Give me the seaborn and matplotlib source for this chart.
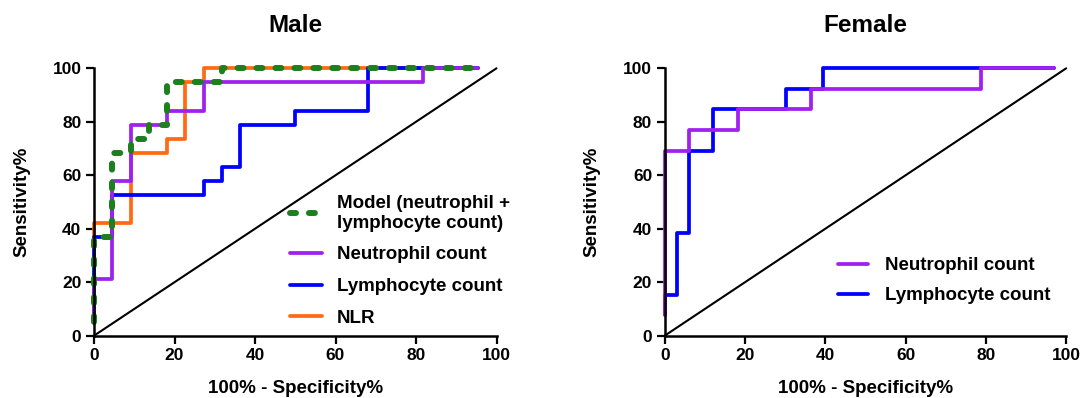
import matplotlib
matplotlib.use("Agg")
import matplotlib.pyplot as plt
import seaborn as sns

# ---------------- data (ROC corner points: 100% - specificity, sensitivity) ----------------
male_model_x = [0, 0, 4.55, 4.55, 9.09, 9.09, 13.64, 13.64, 18.18, 18.18, 31.82, 31.82, 95.45]
male_model_y = [5.26, 36.84, 36.84, 68.42, 68.42, 73.68, 73.68, 78.95, 78.95, 94.74, 94.74, 100, 100]

male_neut_x = [0, 0, 4.55, 4.55, 9.09, 9.09, 18.18, 18.18, 27.27, 27.27, 81.82, 81.82, 95.45]
male_neut_y = [5.26, 21.05, 21.05, 57.89, 57.89, 78.95, 78.95, 84.21, 84.21, 94.74, 94.74, 100, 100]

male_lymph_x = [0, 0, 4.55, 4.55, 27.27, 27.27, 31.82, 31.82, 36.36, 36.36, 50.0, 50.0, 68.18, 68.18, 95.45]
male_lymph_y = [5.26, 36.84, 36.84, 52.63, 52.63, 57.89, 57.89, 63.16, 63.16, 78.95, 78.95, 84.21, 84.21, 100, 100]

male_nlr_x = [0, 0, 9.09, 9.09, 18.18, 18.18, 22.73, 22.73, 27.27, 27.27, 95.45]
male_nlr_y = [36.84, 42.11, 42.11, 68.42, 68.42, 73.68, 73.68, 94.74, 94.74, 100, 100]

female_neut_x = [0, 0, 6.06, 6.06, 18.18, 18.18, 36.36, 36.36, 78.79, 78.79, 96.97]
female_neut_y = [7.69, 69.23, 69.23, 76.92, 76.92, 84.62, 84.62, 92.31, 92.31, 100, 100]

female_lymph_x = [0, 0, 3.03, 3.03, 6.06, 6.06, 12.12, 12.12, 30.30, 30.30, 39.39, 39.39, 96.97]
female_lymph_y = [7.69, 15.38, 15.38, 38.46, 38.46, 69.23, 69.23, 84.62, 84.62, 92.31, 92.31, 100, 100]

diag = [0, 100]
ticks = [0, 20, 40, 60, 80, 100]
titles = ["Male", "Female"]
xlabel = "100% - Specificity%"
ylabel = "Sensitivity%"
male_labels = ["Model (neutrophil +\nlymphocyte count)", "Neutrophil count", "Lymphocyte count", "NLR"]
female_labels = ["Neutrophil count", "Lymphocyte count"]

C_PURPLE = "#A020F0"
C_BLUE = "#0000FF"
C_ORANGE = "#FF6A13"
C_GREEN = "#1E7F1E"

sns.set_style("ticks")
plt.rcParams["font.family"] = ["Liberation Sans", "DejaVu Sans"]
plt.rcParams["font.weight"] = "bold"
for k in ["text.color", "axes.labelcolor", "xtick.color", "ytick.color", "axes.edgecolor"]:
    plt.rcParams[k] = "black"

fig = plt.figure(figsize=(10.83, 3.98), dpi=100)
W, H = 1083, 398
ax_m = fig.add_axes([94 / W, 1 - 335.7 / H, (496.5 - 94) / W, (335.7 - 68.3) / H])
ax_f = fig.add_axes([664.7 / W, 1 - 335.7 / H, (1066.2 - 664.7) / W, (335.7 - 68.3) / H])

LW = 2.7
common = dict(sort=False, estimator=None, clip_on=False)

def diag_line(ax):
    sns.lineplot(x=diag, y=diag, ax=ax, color="black", linewidth=1.5, **common)

# Male
diag_line(ax_m)
sns.lineplot(x=male_nlr_x, y=male_nlr_y, ax=ax_m, color=C_ORANGE, linewidth=LW, label=male_labels[3], **common)
sns.lineplot(x=male_lymph_x, y=male_lymph_y, ax=ax_m, color=C_BLUE, linewidth=LW, label=male_labels[2], **common)
sns.lineplot(x=male_neut_x, y=male_neut_y, ax=ax_m, color=C_PURPLE, linewidth=LW, label=male_labels[1], **common)
sns.lineplot(x=male_model_x, y=male_model_y, ax=ax_m, color=C_GREEN, linewidth=4.3,
             linestyle=(0, (1.0, 2.17)), dash_capstyle="round", label=male_labels[0], **common)

# Female
diag_line(ax_f)
sns.lineplot(x=female_lymph_x, y=female_lymph_y, ax=ax_f, color=C_BLUE, linewidth=LW, label=female_labels[1], **common)
sns.lineplot(x=female_neut_x, y=female_neut_y, ax=ax_f, color=C_PURPLE, linewidth=LW, label=female_labels[0], **common)

for ax, title in zip([ax_m, ax_f], titles):
    ax.set_xlim(0, 100)
    ax.set_ylim(0, 100)
    ax.set_xticks(ticks)
    ax.set_yticks(ticks)
    ax.set_xticklabels([str(t) for t in ticks], fontsize=12.5, fontweight="bold")
    ax.set_yticklabels([str(t) for t in ticks], fontsize=12.5, fontweight="bold")
    ax.tick_params(axis="both", length=6, width=1.6, color="black", pad=3)
    sns.despine(ax=ax)
    for s in ["left", "bottom"]:
        ax.spines[s].set_linewidth(1.8)
        ax.spines[s].set_color("black")
    ax.set_title(title, fontsize=17.5, fontweight="bold", pad=26)
    ax.set_xlabel(xlabel, fontsize=13.5, fontweight="bold", labelpad=12)
    ax.set_ylabel(ylabel, fontsize=13.5, fontweight="bold", labelpad=16)
    ax.set_facecolor("white")

# legends
h, l = ax_m.get_legend_handles_labels()
hmap = dict(zip(l, h))
ax_m.legend([hmap[k] for k in male_labels], male_labels, loc="upper left",
            bbox_to_anchor=(290 / W, 1 - 195 / H), bbox_transform=fig.transFigure,
            frameon=False, borderpad=0, borderaxespad=0, handlelength=1.7,
            handletextpad=0.8, labelspacing=0.78, prop={"size": 13.5, "weight": "bold"})

h, l = ax_f.get_legend_handles_labels()
hmap = dict(zip(l, h))
ax_f.legend([hmap[k] for k in female_labels], female_labels, loc="upper left",
            bbox_to_anchor=(838 / W, 1 - 257 / H), bbox_transform=fig.transFigure,
            frameon=False, borderpad=0, borderaxespad=0, handlelength=1.6,
            handletextpad=0.9, labelspacing=0.7, prop={"size": 13.5, "weight": "bold"})

fig.savefig("out.png", dpi=100, facecolor="white")
